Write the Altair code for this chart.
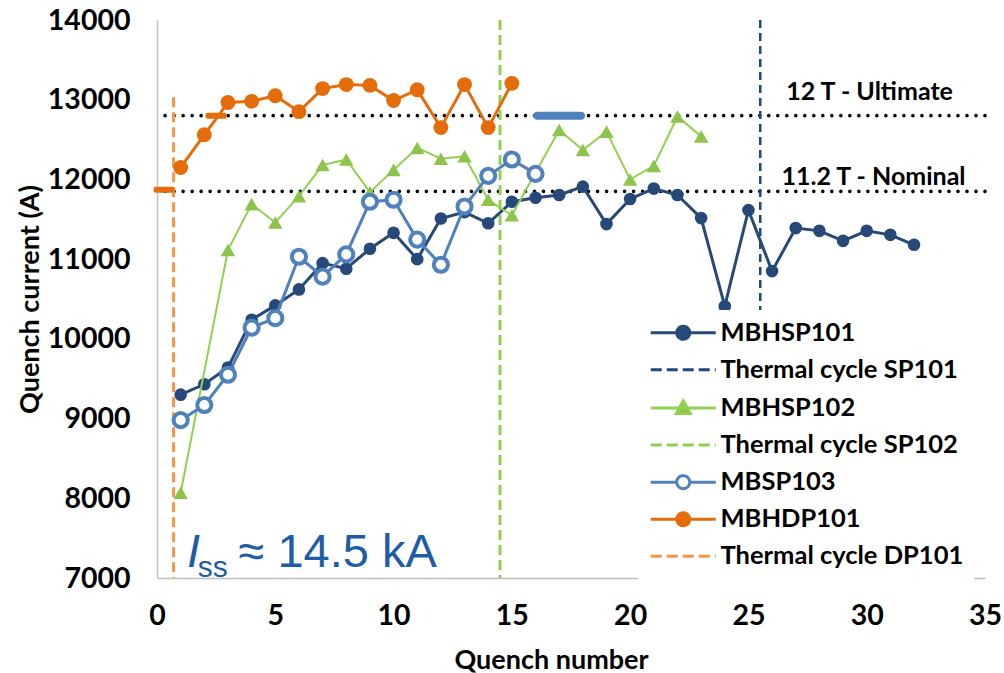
import altair as alt
import pandas as pd

# ---------------- data ----------------
quench_sp101 = list(range(1, 33))
current_sp101 = [9300, 9430, 9640, 10240, 10420, 10620, 10950, 10880, 11130, 11330,
                 11000, 11510, 11590, 11450, 11720, 11770, 11805, 11910, 11440, 11755,
                 11885, 11805, 11515, 10410, 11615, 10850, 11390, 11355, 11230, 11355,
                 11305, 11180]

quench_sp102 = [1, 3, 4, 5, 6, 7, 8, 9, 10, 11, 12, 13, 14, 15, 17, 18, 19, 20, 21, 22, 23]
current_sp102 = [8070, 11115, 11690, 11460, 11790, 12180, 12250, 11840, 12120, 12395,
                 12260, 12290, 11745, 11550, 12620, 12370, 12600, 12000, 12170, 12790, 12540]

quench_sp103 = list(range(1, 17))
current_sp103 = [8980, 9170, 9550, 10140, 10260, 11030, 10780, 11060, 11720, 11745,
                 11245, 10930, 11660, 12045, 12250, 12070]

quench_dp101 = list(range(1, 16))
current_dp101 = [12150, 12560, 12965, 12980, 13050, 12850, 13140, 13190, 13180, 12990,
                 13125, 12650, 13190, 12650, 13205]

# "no quench" dash markers
dash_series = ["MBHDP101", "MBHDP101", "MBSP103"]
dash_quench = [0.3, 2.5, 17]
dash_current = [11870, 12800, 12800]

# thermal cycles (vertical dashed lines)
tc_names = ["Thermal cycle SP101", "Thermal cycle SP102", "Thermal cycle DP101"]
tc_quench = [25.5, 14.5, 0.7]
tc_top = [14000, 14000, 13030]
tc_bottom = [7000, 7000, 7000]

# field levels (dotted lines)
ref_names = ["12 T - Ultimate", "11.2 T - Nominal"]
ref_current = [12800, 11850]
ref_label_quench = [26.6, 26.4]
ref_label_current = [13100, 12030]

legend_names = ["MBHSP101", "Thermal cycle SP101", "MBHSP102", "Thermal cycle SP102",
                "MBSP103", "MBHDP101", "Thermal cycle DP101"]

x_ticks = [0, 5, 10, 15, 20, 25, 30, 35]
y_ticks = [7000, 8000, 9000, 10000, 11000, 12000, 13000, 14000]

# annotation I_ss ≈ 14.5 kA
ann_main_q, ann_main_i = 1.27, 7140
ann_sub_q, ann_sub_i = 1.72, 7010
ann_rest_q = 3.45

# ---------------- styles ----------------
NAVY = "#27497A"
NAVY_DASH = "#1F497D"
GREEN_LINE = "#92D050"
GREEN_MARK = "#8DC44C"
GREEN_DASH = "#92D050"
BLUE = "#4F81BD"
ORANGE = "#E46C0A"
ORANGE_DASH = "#F79646"
ANN_BLUE = "#1E5CA8"
FONT = "Lato"

X = alt.X("q:Q", scale=alt.Scale(domain=[0, 35], nice=False, zero=False),
          axis=alt.Axis(values=x_ticks, title="Quench number", labelPadding=23,
                        labelFlush=False, titleX=394, titleY=82, titleBaseline="middle"))
Y = alt.Y("i:Q", scale=alt.Scale(domain=[7000, 14000], nice=False, zero=False),
          axis=alt.Axis(values=y_ticks, format="d", title="Quench current (A)", labelPadding=27,
                        labelFlush=False, titleX=-127, titleY=279, titleBaseline="middle",
                        titleAngle=-90))

df101 = pd.DataFrame({"q": quench_sp101, "i": current_sp101})
df102 = pd.DataFrame({"q": quench_sp102, "i": current_sp102})
df103 = pd.DataFrame({"q": quench_sp103, "i": current_sp103})
dfdp = pd.DataFrame({"q": quench_dp101, "i": current_dp101})
dfdash = pd.DataFrame({"s": dash_series, "q": dash_quench, "i": dash_current})
dftc = pd.DataFrame({"s": tc_names, "q": tc_quench, "i": tc_top, "i2": tc_bottom})
dfref = pd.DataFrame({"s": ref_names, "i": ref_current,
                      "lq": ref_label_quench, "li": ref_label_current})

# dotted field-level lines
ref_lines = alt.Chart(dfref).mark_rule(color="black", strokeWidth=3.6, strokeDash=[0.01, 9],
                                       strokeCap="round").encode(y=Y)
ref_text = alt.Chart(dfref).mark_text(align="left", baseline="middle", font=FONT,
                                      fontWeight="bold", fontSize=25, color="black").encode(
    x=alt.X("lq:Q"), y=alt.Y("li:Q"), text="s:N")


def tc_layer(name, color, width, dash):
    return alt.Chart(dftc).transform_filter(alt.datum.s == name).mark_rule(
        color=color, strokeWidth=width, strokeDash=dash).encode(x=X, y=Y, y2="i2:Q")


tc101 = tc_layer("Thermal cycle SP101", NAVY_DASH, 2.5, [8, 5])
tc102 = tc_layer("Thermal cycle SP102", GREEN_DASH, 3, [10, 5])
tcdp = tc_layer("Thermal cycle DP101", ORANGE_DASH, 3, [10, 5])

l101 = alt.Chart(df101).mark_line(color=NAVY, strokeWidth=3).encode(x=X, y=Y)
p101 = alt.Chart(df101).mark_point(shape="circle", filled=True, color=NAVY, size=160,
                                   opacity=1).encode(x=X, y=Y)
l102 = alt.Chart(df102).mark_line(color=GREEN_LINE, strokeWidth=2).encode(x=X, y=Y)
p102 = alt.Chart(df102).mark_point(shape="triangle-up", filled=True, color=GREEN_MARK,
                                   size=210, opacity=1).encode(x=X, y=Y)
l103 = alt.Chart(df103).mark_line(color=BLUE, strokeWidth=3).encode(x=X, y=Y)
p103 = alt.Chart(df103).mark_circle(fill="white", stroke=BLUE, strokeWidth=4, size=200,
                                    opacity=1, fillOpacity=1).encode(x=X, y=Y)
ldp = alt.Chart(dfdp).mark_line(color=ORANGE, strokeWidth=3).encode(x=X, y=Y)
pdp = alt.Chart(dfdp).mark_point(shape="circle", filled=True, color=ORANGE, size=220,
                                 opacity=1).encode(x=X, y=Y)

dash_dp = alt.Chart(dfdash).transform_filter(alt.datum.s == "MBHDP101").mark_tick(
    orient="horizontal", color=ORANGE, size=21, thickness=6, opacity=1,
    cornerRadius=2).encode(x=X, y=Y)
dash_103 = alt.Chart(dfdash).transform_filter(alt.datum.s == "MBSP103").mark_tick(
    orient="horizontal", color=BLUE, size=52, thickness=8, opacity=1,
    cornerRadius=4).encode(x=X, y=Y)

# annotation
ann_df = pd.DataFrame({"t": ["I", "SS", "≈ 14.5 kA"],
                       "q": [ann_main_q, ann_sub_q, ann_rest_q],
                       "i": [ann_main_i, ann_sub_i, ann_main_i]})
ann_I = alt.Chart(ann_df).transform_filter(alt.datum.t == "I").mark_text(
    align="left", baseline="alphabetic", font="Liberation Sans", fontStyle="italic",
    fontSize=47, color=ANN_BLUE).encode(x=X, y=Y, text="t:N")
ann_ss = alt.Chart(ann_df).transform_filter(alt.datum.t == "SS").mark_text(
    align="left", baseline="alphabetic", font="Liberation Sans",
    fontSize=30, color=ANN_BLUE).encode(x=X, y=Y, text=alt.value("ss"))
ann_rest = alt.Chart(ann_df).transform_filter(alt.datum.t == "≈ 14.5 kA").mark_text(
    align="left", baseline="alphabetic", font="Liberation Sans",
    fontSize=47, color=ANN_BLUE).encode(x=X, y=Y, text="t:N")

# legend (symbols drawn via custom shape paths; the layer itself draws no marks)
LINE_CIRCLE = "M-1,0L1.6,0M2.9,0L5.5,0M2.9,0A0.65,0.65 0 1,1 1.6,0A0.65,0.65 0 1,1 2.9,0Z"
LINE_TRI = "M-1,0L5.5,0M2.25,-0.72L2.95,0.55L1.55,0.55Z"
DASHED = "M-1,0L5.5,0"
shape_range = [LINE_CIRCLE, DASHED, LINE_TRI, DASHED, LINE_CIRCLE, LINE_CIRCLE, DASHED]
stroke_range = [NAVY, NAVY_DASH, GREEN_LINE, GREEN_DASH, BLUE, ORANGE, ORANGE_DASH]
fill_range = [NAVY, "transparent", GREEN_MARK, "transparent", "white", ORANGE, "transparent"]
dash_range = [[1, 0], [11, 5], [1, 0], [11, 5], [1, 0], [1, 0], [11, 5]]

leg = alt.Legend(title=None, orient="none", legendX=481, legendY=290, padding=10,
                 fillColor="white", labelFont=FONT, labelFontWeight="bold", labelFontSize=25.5,
                 labelColor="black", labelOffset=47, labelLimit=400, symbolSize=400,
                 symbolStrokeWidth=3, rowPadding=10.1)
leg_df = pd.DataFrame({"name": legend_names, "q": [None] * 7, "i": [None] * 7})
legend_layer = alt.Chart(leg_df).mark_point(opacity=1, size=400, strokeWidth=3).encode(
    x=X, y=Y,
    shape=alt.Shape("name:N", scale=alt.Scale(domain=legend_names, range=shape_range), legend=leg),
    stroke=alt.Stroke("name:N", scale=alt.Scale(domain=legend_names, range=stroke_range), legend=leg),
    fill=alt.Fill("name:N", scale=alt.Scale(domain=legend_names, range=fill_range), legend=leg),
    strokeDash=alt.StrokeDash("name:N", scale=alt.Scale(domain=legend_names, range=dash_range),
                              legend=leg),
)

chart = alt.layer(
    ref_lines, ref_text, tc101, tc102, tcdp,
    l101, p101, l102, p102, l103, p103, ldp, pdp, dash_dp, dash_103,
    ann_I, ann_ss, ann_rest, legend_layer,
).properties(
    width=828, height=558,
    autosize=alt.AutoSizeParams(type="none"),
    padding={"left": 157, "top": 20, "right": 19, "bottom": 95},
).configure_view(stroke=None).configure_axis(
    grid=False, ticks=False, domainColor="#BFBFBF", domainWidth=1.5,
    labelFont=FONT, labelFontWeight="bold", labelFontSize=28.5, labelColor="black",
    titleFont=FONT, titleFontWeight="bold", titleFontSize=27, titleColor="black",
)

chart.save("out.html", embed_options={"renderer": "svg", "actions": False})
